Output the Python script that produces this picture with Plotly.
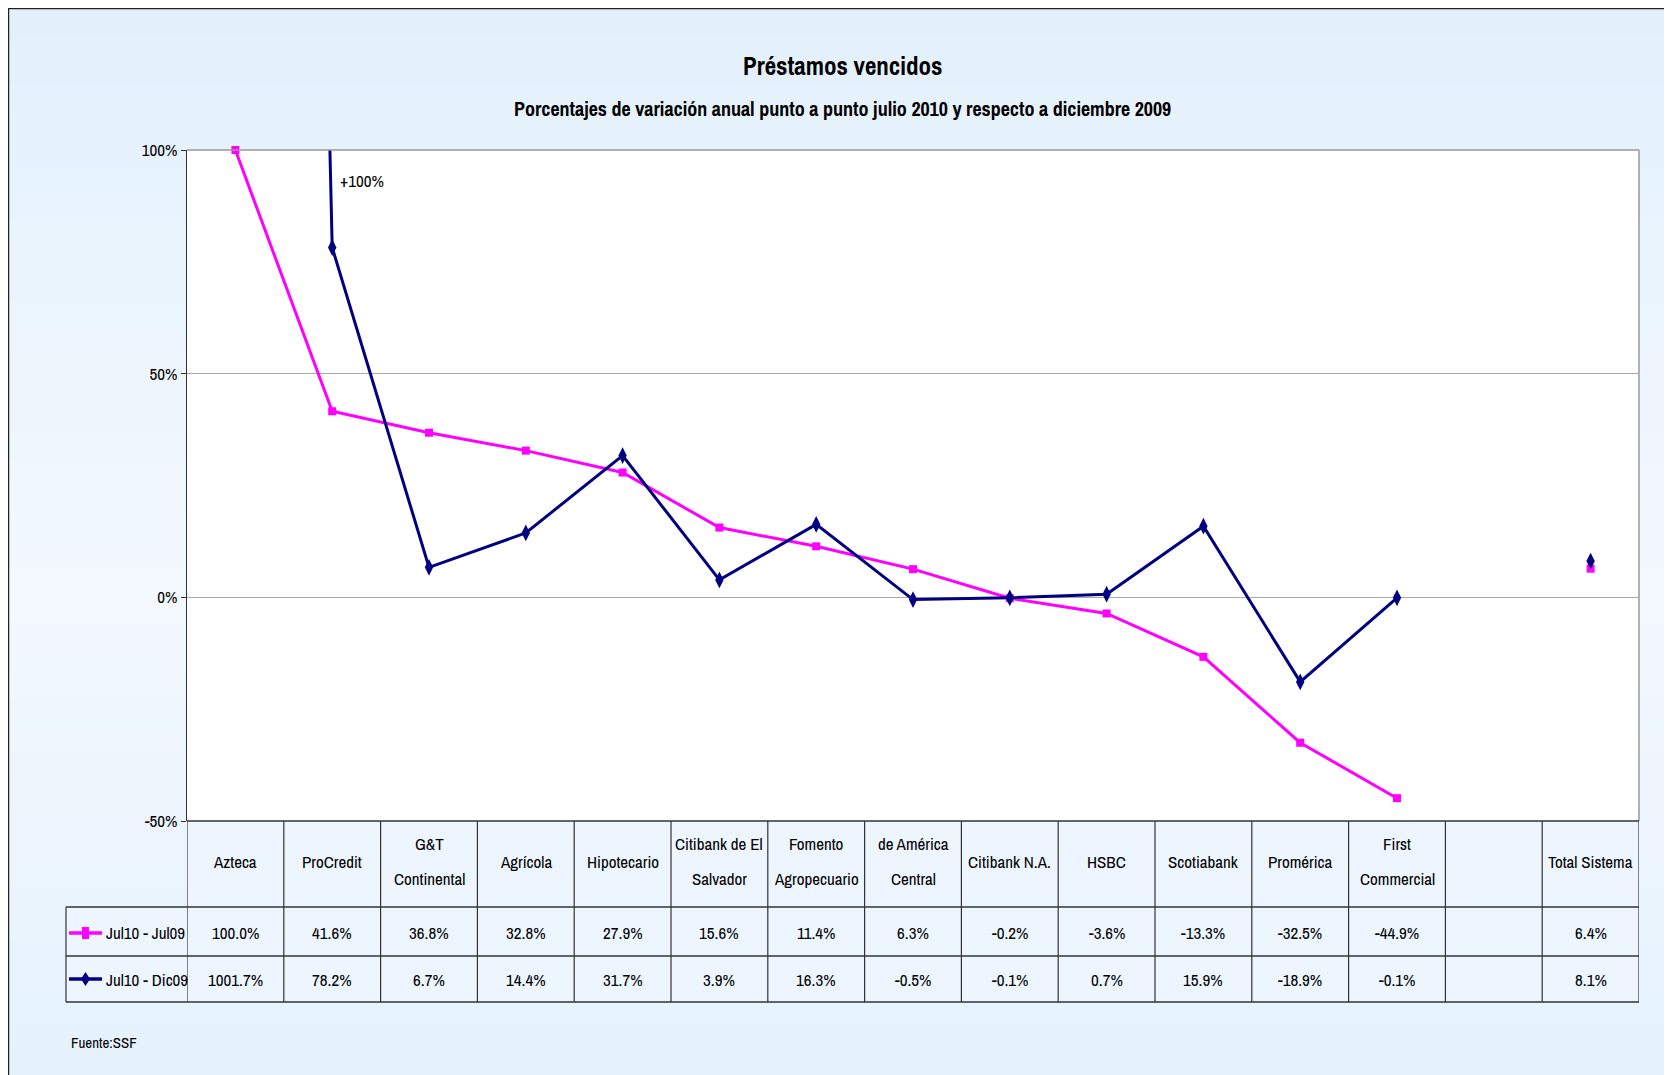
import plotly.graph_objects as go

# ---------------- data ----------------
categories = ["Azteca", "ProCredit", "G&T Continental", "Agrícola", "Hipotecario",
              "Citibank de El Salvador", "Fomento Agropecuario", "de América Central",
              "Citibank N.A.", "HSBC", "Scotiabank", "Promérica", "First Commercial",
              "", "Total Sistema"]
header_lines = [["Azteca"], ["ProCredit"], ["G&T", "Continental"], ["Agrícola"], ["Hipotecario"],
                ["Citibank de El", "Salvador"], ["Fomento", "Agropecuario"], ["de América", "Central"],
                ["Citibank N.A."], ["HSBC"], ["Scotiabank"], ["Promérica"], ["First", "Commercial"],
                [], ["Total Sistema"]]
jul10_jul09 = [100.0, 41.6, 36.8, 32.8, 27.9, 15.6, 11.4, 6.3, -0.2, -3.6, -13.3, -32.5, -44.9, None, 6.4]
jul10_dic09 = [1001.7, 78.2, 6.7, 14.4, 31.7, 3.9, 16.3, -0.5, -0.1, 0.7, 15.9, -18.9, -0.1, None, 8.1]
series_names = ["Jul10 - Jul09", "Jul10 - Dic09"]
y_ticks = [-50, 0, 50, 100]
y_tick_labels = ["-50%", "0%", "50%", "100%"]

# ---------------- layout geometry (reference pixel coords; page has 8px body margin) ----------------
OFF = 8
W, H = 1672 - OFF, 1075 - OFF
L, R, T, B = 187 - OFF, 1639 - OFF, 150 - OFF, 821 - OFF
FONT = "Archivo Narrow, Roboto Condensed, Liberation Sans, sans-serif"
MAG = "#FF00FF"
NAVY = "#000080"
n = len(categories)
xs = list(range(n))


def px(x):
    return (x - OFF - L) / (R - L)


def py(y):
    return (B - (y - OFF)) / (B - T)


fig = go.Figure()
fig.add_trace(go.Scatter(x=xs, y=jul10_jul09, mode="lines+markers", name=series_names[0],
                         line=dict(color=MAG, width=3),
                         marker=dict(symbol="square", size=8, color=MAG),
                         connectgaps=False, cliponaxis=False, showlegend=False))
fig.add_trace(go.Scatter(x=xs, y=jul10_dic09, mode="lines+markers", name=series_names[1],
                         line=dict(color=NAVY, width=3),
                         marker=dict(symbol="diamond-tall", size=12, color=NAVY),
                         connectgaps=False, showlegend=False))

shapes = []
# background gradient
top_c = (0xE2, 0xF0, 0xFC)
mid_c = (0xF3, 0xF9, 0xFE)
nb = 40
for i in range(nb):
    y0 = OFF + i * H / nb
    y1 = OFF + (i + 1) * H / nb
    t = ((y0 + y1) / 2) / 1075
    f = 1 - abs(t - 0.55) / 0.55
    f = max(0.0, min(1.0, f))
    c = tuple(int(round(top_c[k] + (mid_c[k] - top_c[k]) * f)) for k in range(3))
    shapes.append(dict(type="rect", xref="paper", yref="paper", x0=px(OFF), x1=px(1680),
                       y0=py(y1), y1=py(y0) + 0.002, fillcolor="rgb(%d,%d,%d)" % c,
                       line=dict(width=0), layer="below"))
# plot area white
shapes.append(dict(type="rect", xref="paper", yref="paper", x0=0, x1=1, y0=0, y1=1,
                   fillcolor="white", line=dict(width=0), layer="below"))
# outer frame
shapes.append(dict(type="line", xref="paper", yref="paper", x0=px(OFF), x1=px(1680), y0=py(OFF + 0.5),
                   y1=py(OFF + 0.5), line=dict(color="#222", width=1.5)))
shapes.append(dict(type="line", xref="paper", yref="paper", x0=px(OFF + 0.5), x1=px(OFF + 0.5), y0=py(OFF),
                   y1=py(1080), line=dict(color="#222", width=1.5)))
# plot border top/right
shapes.append(dict(type="line", xref="paper", yref="paper", x0=0, x1=1, y0=1, y1=1,
                   line=dict(color="#999", width=1.5)))
shapes.append(dict(type="line", xref="paper", yref="paper", x0=1, x1=1, y0=0, y1=1,
                   line=dict(color="#999", width=1.5)))

# table geometry
hdr_bot, r1_bot, r2_bot = 907, 956, 1002
leg_left = 66
shapes.append(dict(type="rect", xref="paper", yref="paper", x0=0, x1=1, y0=py(hdr_bot), y1=0,
                   fillcolor="#EDF6FE", line=dict(width=0), layer="below"))
shapes.append(dict(type="rect", xref="paper", yref="paper", x0=px(leg_left), x1=1, y0=py(r2_bot),
                   y1=py(hdr_bot), fillcolor="#EDF6FE", line=dict(width=0), layer="below"))
for yy, x0 in [(821, 187), (hdr_bot, leg_left), (r1_bot, leg_left), (r2_bot, leg_left)]:
    shapes.append(dict(type="line", xref="paper", yref="paper", x0=px(x0), x1=1, y0=py(yy), y1=py(yy),
                       line=dict(color="#333", width=1.5)))
for i in range(n + 1):
    shapes.append(dict(type="line", xref="x", yref="paper", x0=i - 0.5, x1=i - 0.5,
                       y0=0, y1=py(r2_bot), line=dict(color="#333", width=1.2)))
shapes.append(dict(type="line", xref="paper", yref="paper", x0=px(leg_left), x1=px(leg_left),
                   y0=py(hdr_bot), y1=py(r2_bot), line=dict(color="#333", width=1.2)))

# legend icons in table
for yy, col, kind in [(933, MAG, "sq"), (979, NAVY, "dia")]:
    shapes.append(dict(type="line", xref="paper", yref="paper", x0=px(69), x1=px(102), y0=py(yy), y1=py(yy),
                       line=dict(color=col, width=3.5)))
    cx = 85.5
    if kind == "sq":
        shapes.append(dict(type="rect", xref="paper", yref="paper", x0=px(cx - 3.5), x1=px(cx + 3.5),
                           y0=py(yy + 6), y1=py(yy - 6), fillcolor=col, line=dict(width=0)))
    else:
        path = "M %f,%f L %f,%f L %f,%f L %f,%f Z" % (
            px(cx), py(yy - 7), px(cx + 4.5), py(yy), px(cx), py(yy + 7), px(cx - 4.5), py(yy))
        shapes.append(dict(type="path", xref="paper", yref="paper", path=path, fillcolor=col,
                           line=dict(width=0)))

annotations = []
annotations.append(dict(text="<b>Préstamos vencidos</b>", xref="paper", yref="paper", x=px(842), y=py(66),
                        showarrow=False, font=dict(family=FONT, size=25, color="black"),
                        xanchor="center", yanchor="middle"))
annotations.append(dict(text="<b>Porcentajes de variación anual punto a punto julio 2010 y respecto a diciembre 2009</b>",
                        xref="paper", yref="paper", x=px(842), y=py(108), showarrow=False,
                        font=dict(family=FONT, size=20, color="black"), xanchor="center", yanchor="middle"))
annotations.append(dict(text="+100%", xref="paper", yref="paper", x=px(338), y=py(180), showarrow=False,
                        font=dict(family=FONT, size=17, color="black"), xanchor="left", yanchor="middle"))
annotations.append(dict(text="Fuente:SSF", xref="paper", yref="paper", x=px(69), y=py(1042), showarrow=False,
                        font=dict(family=FONT, size=15, color="black"), xanchor="left", yanchor="middle"))

tf = dict(family=FONT, size=17, color="black")
for i, lines in enumerate(header_lines):
    if len(lines) == 1:
        annotations.append(dict(text=lines[0], xref="x", yref="paper", x=i, y=py(861), showarrow=False,
                                font=tf, xanchor="center", yanchor="middle"))
    elif len(lines) == 2:
        for ln, yy in zip(lines, [843, 879]):
            annotations.append(dict(text=ln, xref="x", yref="paper", x=i, y=py(yy), showarrow=False,
                                    font=tf, xanchor="center", yanchor="middle"))


def fmt(v):
    return "" if v is None else "%.1f%%" % v


for vals, yy, name in [(jul10_jul09, 933, series_names[0]), (jul10_dic09, 979, series_names[1])]:
    for i, v in enumerate(vals):
        if v is None:
            continue
        annotations.append(dict(text=fmt(v), xref="x", yref="paper", x=i, y=py(yy), showarrow=False,
                                font=tf, xanchor="center", yanchor="middle"))
    annotations.append(dict(text=name, xref="paper", yref="paper", x=px(104), y=py(yy), showarrow=False,
                            font=tf, xanchor="left", yanchor="middle"))

fig.update_layout(
    width=W, height=H,
    margin=dict(l=L, r=W - R, t=T, b=H - B, pad=0),
    paper_bgcolor="#E6F2FC", plot_bgcolor="rgba(0,0,0,0)",
    font=dict(family=FONT, color="black"),
    shapes=shapes, annotations=annotations,
    showlegend=False,
)
fig.update_xaxes(range=[-0.5, n - 0.5], showticklabels=False, showgrid=False, zeroline=False,
                 showline=False, ticks="")
fig.update_yaxes(range=[-50, 100], tickvals=y_ticks, ticktext=y_tick_labels, showgrid=True,
                 gridcolor="#A8A8A8", gridwidth=1.2, zeroline=True, zerolinecolor="#A8A8A8",
                 zerolinewidth=1.2, showline=True, linecolor="#333", linewidth=1.2,
                 ticks="outside", ticklen=5, tickcolor="#333",
                 tickfont=dict(family=FONT, size=17, color="black"))

fig.write_html("out.html")
